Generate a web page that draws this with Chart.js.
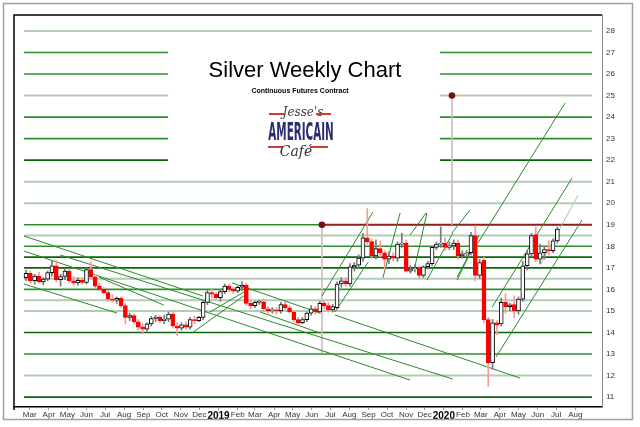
<!DOCTYPE html>
<html><head><meta charset="utf-8">
<script src="https://cdn.jsdelivr.net/npm/chart.js@4.4.0/dist/chart.umd.min.js"></script>
<style>html,body{margin:0;padding:0;background:#fff;}#wrap{width:640px;height:427px;}</style>
</head><body><div id="wrap"><canvas id="c" width="640" height="427"></canvas></div>
<script>
// Weekly candles, week 0 = first week of March 2018
const openP  = [16.55,16.75,16.40,16.62,16.35,16.48,16.78,17.10,16.45,16.60,16.85,16.40,16.30,16.42,16.32,16.92,16.58,16.15,16.00,15.85,15.55,15.50,15.58,15.25,14.70,14.78,14.50,14.25,14.15,14.40,14.65,14.72,14.55,14.62,14.85,14.30,14.20,14.35,14.25,14.60,14.55,14.70,15.40,15.85,15.78,15.62,15.90,16.15,16.00,15.92,16.10,16.20,15.35,15.25,15.40,15.42,15.10,15.00,15.02,15.00,15.30,15.15,14.95,14.60,14.45,14.60,14.90,15.10,14.95,15.35,15.25,15.05,15.15,16.25,16.40,16.25,17.05,17.12,17.45,18.40,18.22,17.55,17.90,17.70,17.40,17.55,17.45,18.10,18.15,16.85,16.95,17.00,16.65,17.05,17.20,17.95,18.10,18.15,17.95,18.02,18.15,17.55,17.65,17.70,18.50,16.65,17.35,14.60,12.60,14.45,14.40,15.40,15.20,15.30,15.00,15.55,17.10,17.65,18.55,17.40,17.70,17.85,17.80,18.25];
const highP  = [16.90,16.85,16.70,16.80,16.55,16.85,17.30,17.35,16.70,16.95,16.95,16.60,16.55,16.55,17.00,17.30,16.70,16.30,16.10,15.95,15.75,15.65,15.65,15.35,14.90,14.85,14.60,14.40,14.45,14.75,14.80,14.80,14.80,14.95,14.95,14.45,14.45,14.50,14.70,14.75,14.75,15.50,15.95,16.00,15.85,16.00,16.25,16.25,16.10,16.15,16.35,16.30,15.50,15.45,15.50,15.55,15.20,15.15,15.15,15.40,15.40,15.25,15.00,14.70,14.70,14.95,15.25,15.20,15.45,15.50,15.40,15.30,16.35,16.55,16.55,17.20,17.25,17.60,18.60,19.75,18.35,18.30,18.25,17.80,17.75,17.70,18.20,18.60,18.30,17.10,17.15,17.10,17.10,17.30,18.00,18.20,18.90,18.40,18.20,18.30,18.30,17.80,17.80,18.65,18.95,17.40,17.50,14.70,14.60,14.55,15.60,15.80,15.35,15.70,15.65,17.30,17.80,18.60,18.90,18.10,18.00,18.25,18.35,18.90];
const lowP   = [16.40,16.30,16.25,16.30,16.20,16.40,16.60,16.35,16.15,16.45,16.30,16.20,16.20,16.25,16.25,16.50,16.05,15.95,15.80,15.45,15.40,15.35,15.15,14.40,14.55,14.40,14.10,13.95,14.05,14.30,14.50,14.45,14.40,14.50,14.20,13.85,14.10,14.15,14.15,14.40,14.50,14.60,15.30,15.60,15.55,15.45,15.80,15.90,15.80,15.85,15.95,15.25,15.10,15.15,15.30,14.95,14.90,14.90,14.85,14.90,15.05,14.90,14.50,14.35,14.40,14.50,14.80,14.85,14.90,15.10,14.95,14.95,15.10,16.10,16.15,16.15,16.85,17.00,17.30,18.10,17.45,17.40,17.50,16.90,17.20,17.30,17.30,17.95,16.80,16.75,16.80,16.50,16.55,16.95,17.10,17.85,17.95,17.80,17.85,17.85,17.40,17.45,17.55,17.60,16.40,16.50,14.45,11.50,12.30,13.90,14.30,14.90,15.00,14.70,14.85,15.45,16.90,17.50,17.30,17.20,17.40,17.60,17.70,18.15];
const closeP = [16.75,16.40,16.62,16.35,16.48,16.78,17.10,16.45,16.60,16.85,16.40,16.30,16.42,16.32,16.92,16.58,16.15,16.00,15.85,15.55,15.50,15.58,15.25,14.70,14.78,14.50,14.25,14.15,14.40,14.65,14.72,14.55,14.62,14.85,14.30,14.20,14.35,14.25,14.60,14.55,14.70,15.40,15.85,15.78,15.62,15.90,16.15,16.00,15.92,16.10,16.20,15.35,15.25,15.40,15.42,15.10,15.00,15.02,15.00,15.30,15.15,14.95,14.60,14.45,14.60,14.90,15.10,14.95,15.35,15.25,15.05,15.20,16.25,16.40,16.25,17.05,17.12,17.45,18.40,18.22,17.55,17.90,17.70,17.40,17.55,17.45,18.10,18.15,16.85,16.95,17.00,16.65,17.05,17.20,17.95,18.10,18.15,17.95,18.02,18.15,17.55,17.65,17.70,18.50,16.65,17.25,14.60,12.60,14.45,14.35,15.40,15.20,15.28,15.00,15.55,17.10,17.65,18.50,17.40,17.70,17.85,17.80,18.25,18.80];

const priceTicks  = [11,12,13,14,15,16,17,18,19,20,21,22,23,24,25,26,27,28];
const monthLabels = ['Mar','Apr','May','Jun','Jul','Aug','Sep','Oct','Nov','Dec','2019','Feb','Mar','Apr','May','Jun','Jul','Aug','Sep','Oct','Nov','Dec','2020','Feb','Mar','Apr','May','Jun','Jul','Aug'];

// Horizontal support/resistance levels and their tone
const levels     = [28,27,26,25,24,23,22,21,20,19,18.5,18,17.5,17,16.5,16,15.5,15,14,13,12,11];
const levelTones = ['light','mid','mid','light','mid','mid','dark','light','light','mid','light','mid','dark','dark','light','mid','light','light','dark','mid','light','dark'];
const gapLevels  = [27,26,25,24,23,22];

// Trend lines: start week, start price, end week, end price
const trendW1 = [-0.46,-0.46, 7.9,-0.46,16.9,47.7,54.2, 71.5,38.4,42.6,68.5,71.5,82.6,90.0,92.8, 99.8, 98.6,88.9,104.6,107.9,108.8,119.0, 99.8];
const trendP1 = [18.48,17.78,17.60,16.25,16.57,16.30,14.95,14.81,13.97,14.95,15.69,14.95,16.53,17.04,16.43,16.43,18.62,18.52,18.15,15.18,12.86,17.13,16.57];
const trendW2 = [40.97,88.9,98.8,21.1,31.9,68.1,68.1,114.4,50.7,51.2,80.3,79.2,86.6,92.8,98.8,102.8,102.8,92.6,124.8,126.4,128.7,127.8,104.9];
const trendP2 = [15.69,11.79,11.84,14.90,15.27,14.90,13.97,11.88,15.74,15.97,19.59,17.27,19.55,19.55,18.62,17.69,19.69,19.55,24.66,21.17,19.22,20.38,18.52];
const trendTones = ['mid','mid','mid','mid','mid','mid','mid','mid','mid','mid','mid','mid','mid','mid','mid','mid','mid','mid','mid','mid','mid','light','mid'];

// Annotation markers: week, top price, bottom price
const markW   = [68.5, 98.6];
const markTop = [19, 25];
const markBot = [13.05, 19.0];
const redLevel = 19, redFrom = 68.5;

const LINE_START = -0.46, LINE_END = 131, GAP_FROM = 32.9, GAP_TO = 95.8;
const toneColor = {dark:'#0b660b', mid:'#2f8f2f', light:'#b3cbb3'};
const toneWidth = {dark:1.6, mid:1.6, light:2};

const monthPos = monthLabels.map((_, i) => (Date.UTC(2018, 2 + i, 1) - Date.UTC(2018, 2, 2)) / (7 * 864e5) + 1);

const datasets = [];
function seg(x1, y1, x2, y2, color, width, order, extra) {
  datasets.push(Object.assign({type:'line', data:[{x:x1,y:y1},{x:x2,y:y2}], borderColor:color, borderWidth:width,
    pointRadius:0, fill:false, tension:0, order:order}, extra || {}));
}
levels.forEach((lv, i) => {
  const c = toneColor[levelTones[i]], w = toneWidth[levelTones[i]];
  if (lv === redLevel) {
    seg(LINE_START, lv, redFrom, lv, c, w, 6);
    seg(redFrom, lv, LINE_END, lv, '#8e1f1f', 2, 6);
  } else if (gapLevels.includes(lv)) {
    seg(LINE_START, lv, GAP_FROM, lv, c, w, 6);
    seg(GAP_TO, lv, LINE_END, lv, c, w, 6);
  } else {
    seg(LINE_START, lv, LINE_END, lv, c, w, 6);
  }
});
trendW1.forEach((w1, i) => {
  seg(w1, trendP1[i], trendW2[i], trendP2[i], trendTones[i] === 'light' ? '#a8c4a8' : '#2b8a2b', 1, 4);
});
markW.forEach((w, i) => {
  seg(w, markTop[i], w, markBot[i], '#cbbcbc', 1.6, 5,
    {pointRadius:[2.5,0], pointBackgroundColor:'#7a1010', pointBorderColor:'#7a1010'});
});

const isUp = closeP.map((c, i) => c >= openP[i]);
datasets.push({type:'bar', data: highP.map((h, i) => ({x:i, y:[lowP[i], h]})),
  backgroundColor: isUp.map(u => u ? '#7a7a7a' : '#f49a9a'), borderWidth:0,
  barThickness:1, grouped:false, order:1});
datasets.push({type:'bar', data: closeP.map((c, i) => ({x:i, y:[openP[i], c]})),
  backgroundColor: isUp.map(u => u ? '#ffffff' : '#ff0000'),
  borderColor: isUp.map(u => u ? '#000000' : '#ff0000'), borderWidth:1, borderSkipped:false,
  barThickness:4, minBarLength:1, grouped:false, order:0});

const FAM = '"Liberation Sans", Arial, sans-serif';
const decor = {
  id:'decor',
  beforeDraw(chart){ const c = chart.ctx; c.save(); c.fillStyle = '#fff'; c.fillRect(0,0,chart.width,chart.height); c.restore(); },
  afterDraw(chart){
    const c = chart.ctx, a = chart.chartArea;
    c.save();
    c.strokeStyle = '#a0a0a0'; c.lineWidth = 1.5; c.strokeRect(3.5, 3.5, 629, 416);
    c.strokeStyle = '#000'; c.lineWidth = 1.5;
    c.beginPath(); c.moveTo(a.left, a.bottom + 3); c.lineTo(a.left, a.top); c.lineTo(a.right, a.top); c.stroke();
    // title
    c.fillStyle = '#000'; c.textAlign = 'center'; c.textBaseline = 'alphabetic';
    c.font = '22px ' + FAM; c.fillText('Silver Weekly Chart', 305, 77);
    c.font = 'bold 7px ' + FAM; c.fillText('Continuous Futures Contract', 300, 93);
    // logo
    c.fillStyle = '#444'; c.font = 'italic 12px "DejaVu Serif", serif'; c.fillText("Jesse's", 303, 116);
    c.fillStyle = '#d23a3a';
    c.fillRect(269, 113, 15, 2); c.fillRect(316, 113, 15, 2);
    c.fillRect(268, 146, 15, 2); c.fillRect(310, 146, 18, 2);
    c.save(); c.translate(301, 140); c.scale(0.48, 1);
    c.fillStyle = '#2c2c70'; c.font = 'bold 24px "DejaVu Sans Condensed", "DejaVu Sans", sans-serif';
    c.fillText('AMERICAIN', 0, 0); c.restore();
    c.fillStyle = '#333'; c.font = 'italic 14px "DejaVu Serif", serif'; c.fillText('Café', 296, 156);
    c.restore();
  }
};

new Chart(document.getElementById('c'), {
  type:'bar',
  data:{datasets},
  plugins:[decor],
  options:{
    responsive:false, animation:false, events:[],
    layout:{padding:{left:14, top:15, right:8, bottom:7}},
    plugins:{legend:{display:false}, tooltip:{enabled:false}, title:{display:false}},
    scales:{
      x:{type:'linear', min:-2.78, max:133.33, offset:false,
        afterBuildTicks: ax => { ax.ticks = monthPos.map(v => ({value:v})); },
        afterFit: ax => { ax.height = 13; },
        ticks:{autoSkip:false, maxRotation:0, padding:0,
          callback:(v, i) => monthLabels[i],
          color:ctx => /^20/.test(monthLabels[ctx.index]) ? '#000' : '#333',
          font:ctx => /^20/.test(monthLabels[ctx.index]) ? {family:FAM, size:10, weight:'bold'} : {family:FAM, size:8}},
        grid:{drawOnChartArea:false, drawTicks:true, tickLength:3, color:'#999', offset:false},
        border:{display:true, color:'#000', width:1.5}},
      y:{type:'linear', position:'right', min:10.54, max:28.74,
        afterBuildTicks: ax => { ax.ticks = priceTicks.map(v => ({value:v})); },
        afterFit: ax => { ax.width = 30; },
        ticks:{padding:4, color:'#333', font:{family:FAM, size:8}},
        grid:{drawOnChartArea:false, drawTicks:false},
        border:{display:true, color:'#888', width:1}}
    }
  }
});
</script></body></html>
